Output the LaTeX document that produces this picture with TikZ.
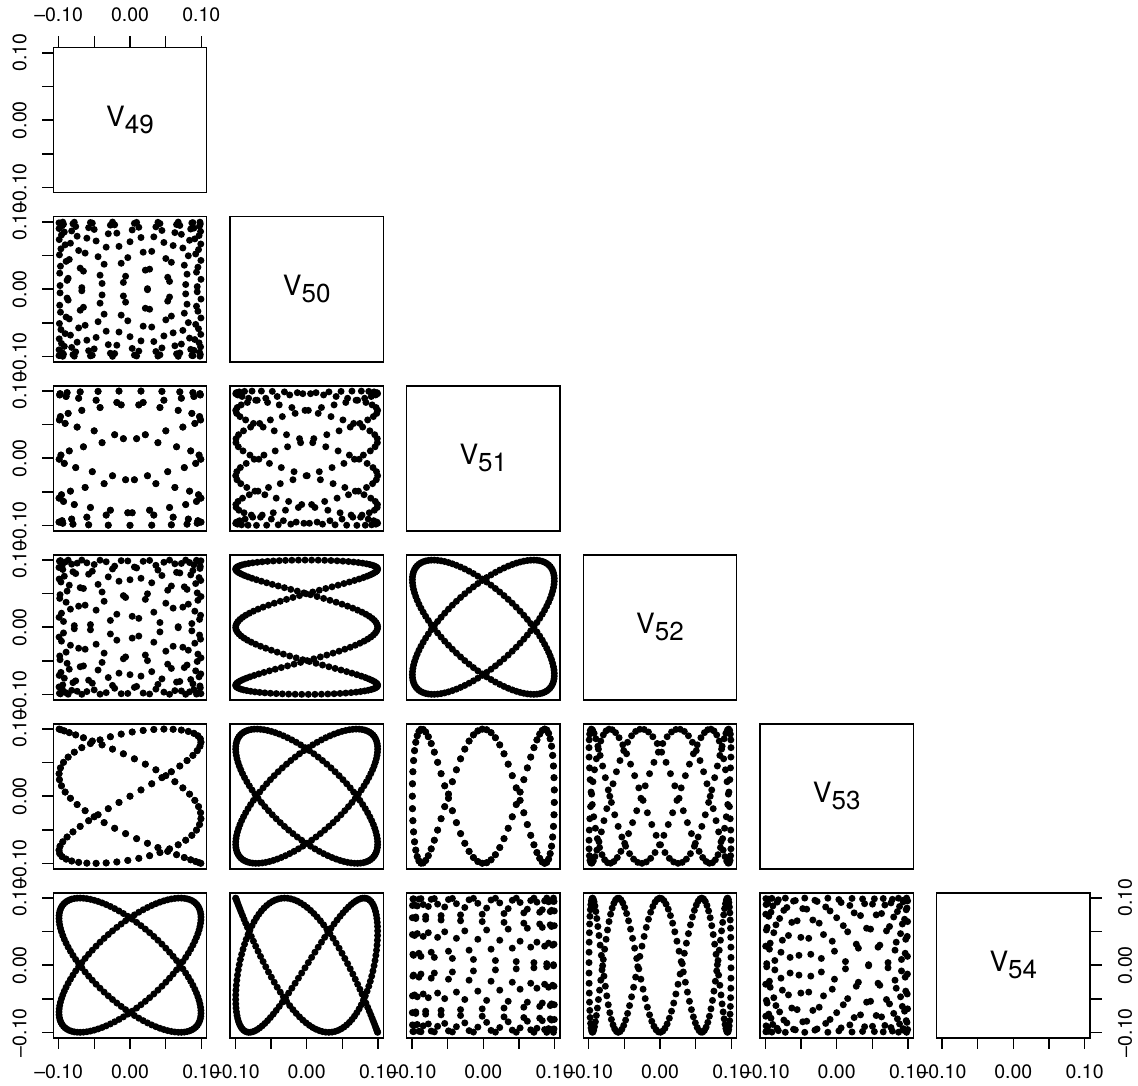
\documentclass[tikz,border=0pt]{standalone}
\usepackage{fontspec}
\setmainfont{TeX Gyre Heros}
\begin{document}
\begin{tikzpicture}[x=1pt,y=-1pt,
  box/.style={line width=1.6pt},
  tck/.style={line width=1.6pt},
  lab/.style={font=\fontsize{19.5}{20}\selectfont, inner sep=0pt},
  vlab/.style={inner sep=0pt},
  dot/.style={fill=black}]
\useasboundingbox (0,0) rectangle (1138,1086);
\def\karr{{48,49,50,51,52,53}}
% extra phase (deg): 90 for odd k, plus mu*0.8911
\def\barr{{-4.4555,87.3267,-0.8911,90.8911,2.6733,94.4555}}
\def\sarr{{-1,1,1,1,-1,1}}
\def\cc{0.25}
% scatter panels
\foreach \r in {2,...,6}{
 \foreach \c in {1,...,5}{
  \ifnum\c<\r
   \pgfmathsetmacro\cx{130+176.667*(\c-1)}
   \pgfmathsetmacro\cy{120.2+169*(\r-1)}
   \pgfmathtruncatemacro\kx{\karr[\c-1]}
   \pgfmathtruncatemacro\ky{\karr[\r-1]}
   \pgfmathsetmacro\bx{\barr[\c-1]}
   \pgfmathsetmacro\by{\barr[\r-1]}
   \pgfmathsetmacro\sx{\sarr[\c-1]}
   \pgfmathsetmacro\sy{\sarr[\r-1]}
   \foreach \i in {0,...,201}{
     \pgfmathsetmacro\ax{((mod(\kx*\i,202)-\kx*\cc)/202)*360+\bx}
     \pgfmathsetmacro\ay{((mod(\ky*\i,202)-\ky*\cc)/202)*360+\by}
     \fill[dot] ({\cx+\sx*70.99*cos(\ax)},{\cy-\sy*67.13*cos(\ay)}) circle[radius=3.5];
   }
  \fi
 }
}
% boxes
\foreach \r in {1,...,6}{
 \foreach \c in {1,...,\r}{
  \draw[box] ({130+176.667*(\c-1)-76.67},{120.2+169*(\r-1)-72.5}) rectangle ++(153.33,145);
 }
}
% diagonal labels
\foreach \j/\nm in {1/49,2/50,3/51,4/52,5/53,6/54}{
  \node[vlab] (lab\nm) at ({130+176.667*(\j-1)},{120.2+169*(\j-1)}) {\fontsize{28}{28}\selectfont V\raisebox{-6.5pt}{\fontsize{26}{26}\selectfont \nm}};
}
% left axes
\foreach \r in {1,...,6}{
  \pgfmathsetmacro\cy{120.2+169*(\r-1)}
  \foreach \d in {-67.47,-33.73,0,33.73,67.47}{
    \draw[tck] (53.33,{\cy+(\d)}) -- (41.7,{\cy+(\d)});
  }
  \node[lab,rotate=90] at (19.7,{\cy-67.47}) {0.10};
  \node[lab,rotate=90] at (19.7,{\cy}) {0.00};
  \node[lab,rotate=90] at (19.7,{\cy+67.47}) {\textendash0.10};
}
% bottom axes
\foreach \c in {1,...,6}{
  \pgfmathsetmacro\cx{130+176.667*(\c-1)}
  \foreach \d in {-71.34,-35.67,0,35.67,71.34}{
    \draw[tck] ({\cx+(\d)},1037.7) -- ({\cx+(\d)},1049.3);
  }
  \node[lab] at ({\cx-71.34},1072) {\textendash0.10};
  \node[lab] at ({\cx},1072) {0.00};
  \node[lab] at ({\cx+71.34},1072) {0.10};
}
% top axis
\foreach \d in {-71.34,-35.67,0,35.67,71.34}{
  \draw[tck] ({130+(\d)},47.7) -- ({130+(\d)},36.0);
}
\node[lab] at (58.66,14.5) {\textendash0.10};
\node[lab] at (130,14.5) {0.00};
\node[lab] at (201.34,14.5) {0.10};
% right axis
\foreach \d in {-67.47,-33.73,0,33.73,67.47}{
  \draw[tck] (1090,{965.2+(\d)}) -- (1101.7,{965.2+(\d)});
}
\node[lab,rotate=90] at (1125,{965.2-67.47}) {0.10};
\node[lab,rotate=90] at (1125,965.2) {0.00};
\node[lab,rotate=90] at (1125,{965.2+67.47}) {\textendash0.10};
\end{tikzpicture}
\end{document}
